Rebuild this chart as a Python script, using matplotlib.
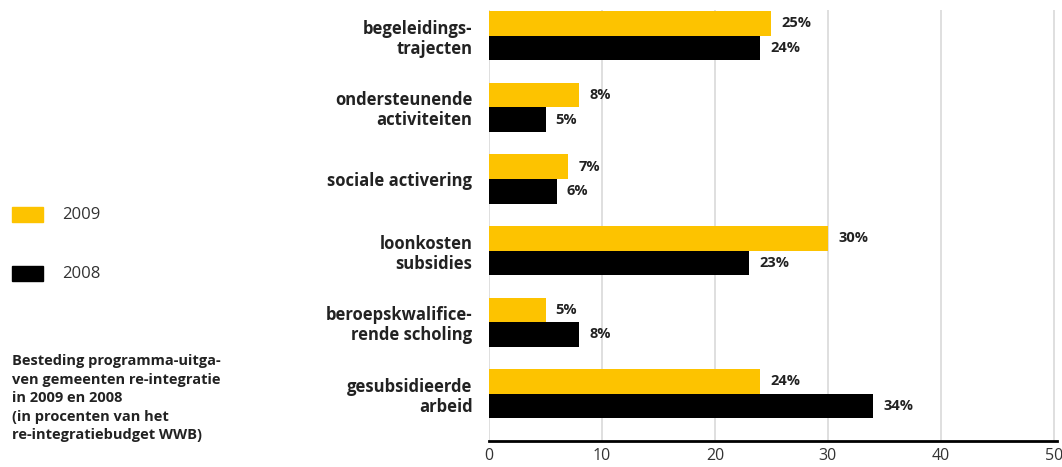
import matplotlib
matplotlib.use("Agg")
import matplotlib.pyplot as plt
import numpy as np

YELLOW = "#fdc300"; BLACK = "#000000"; GRID = "#d9d9d9"; INK = "#222222"

plt.rcParams["font.family"] = ["Open Sans", "DejaVu Sans"]

categories = ["begeleidings-\ntrajecten", "ondersteunende\nactiviteiten", "sociale activering",
              "loonkosten\nsubsidies", "beroepskwalifice-\nrende scholing", "gesubsidieerde\narbeid"]
v2009 = [25, 8, 7, 30, 5, 24]
v2008 = [24, 5, 6, 23, 8, 34]
xticks = [0, 10, 20, 30, 40, 50]

fig = plt.figure(figsize=(10.62, 4.67), dpi=100)
ax = fig.add_axes([0.4605, 0.0557, 0.535, 0.9229])

y = np.arange(len(categories))
h = 0.343
ax.barh(y - h / 2, v2009, h, color=YELLOW, zorder=3)
ax.barh(y + h / 2, v2008, h, color=BLACK, zorder=3)
for yi, a, b in zip(y, v2009, v2008):
    ax.text(a + 0.9, yi - h / 2, f"{a}%", va="center", ha="left", fontsize=10.5, fontweight="bold", color=INK)
    ax.text(b + 0.9, yi + h / 2, f"{b}%", va="center", ha="left", fontsize=10.5, fontweight="bold", color=INK)

ax.set_xlim(0, 50.3)
ax.set_ylim(5.66, -0.36)
ax.set_xticks(xticks)
ax.set_xticklabels([str(t) for t in xticks], fontsize=11.5, color="#333333")
ax.set_yticks(y)
ax.set_yticklabels(categories, fontsize=12, fontweight="bold", color=INK, linespacing=1.15)
ax.tick_params(axis="y", length=0, pad=12)
ax.tick_params(axis="x", length=0, pad=5)
ax.grid(axis="x", color=GRID, lw=1.2, zorder=0)
for s in ["top", "right", "left"]:
    ax.spines[s].set_visible(False)
ax.spines["bottom"].set_linewidth(2)
ax.spines["bottom"].set_color(BLACK)
ax.spines["bottom"].set_zorder(4)

# legend
fig.patches.append(plt.Rectangle((12 / 1062, 1 - 222 / 467), 31 / 1062, 15 / 467,
                                 transform=fig.transFigure, color=YELLOW))
fig.patches.append(plt.Rectangle((12 / 1062, 1 - 281 / 467), 31 / 1062, 15 / 467,
                                 transform=fig.transFigure, color=BLACK))
fig.text(62 / 1062, 1 - 215 / 467, "2009", fontsize=12, color="#333333", va="center")
fig.text(62 / 1062, 1 - 274 / 467, "2008", fontsize=12, color="#333333", va="center")

fig.text(12 / 1062, 1 - 354 / 467,
         "Besteding programma-uitga-\nven gemeenten re-integratie\nin 2009 en 2008\n(in procenten van het\nre-integratiebudget WWB)",
         fontsize=10.5, fontweight="bold", color=INK, va="top", linespacing=1.42)

fig.savefig("out.png", dpi=100)
